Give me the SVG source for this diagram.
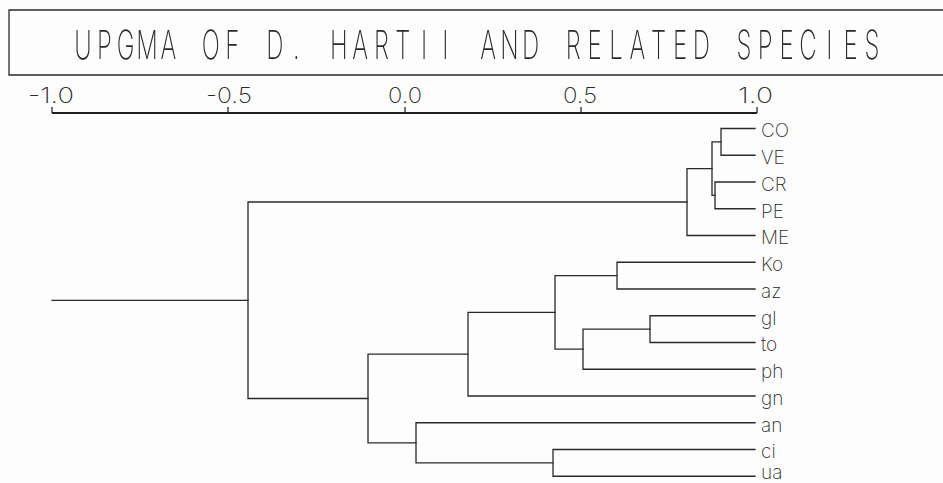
<svg xmlns="http://www.w3.org/2000/svg" width="943" height="483" viewBox="0 0 943 483">
<defs>
<filter id="gray" x="0" y="0" width="1" height="1" color-interpolation-filters="sRGB"><feColorMatrix type="saturate" values="0"/></filter>
</defs>
<style>
.ln{fill:none;stroke:#2a2a2a;stroke-width:1.3;stroke-linecap:square}
.ax{fill:none;stroke:#1e1e1e;stroke-width:2.2}
.tk{fill:none;stroke:#2a2a2a;stroke-width:1.3}
.t{font-family:Inter,"DejaVu Sans",sans-serif;font-weight:200;fill:#2a2a2a}
.title{font-size:40px;font-weight:250}
.axl{font-size:22px}
.lbl{font-size:19px}
</style>
<rect width="943" height="483" fill="#fdfdfd"/>
<g id="title">
<path class="ln" d="M943 10 H9 V75 H943"/>
<g filter="url(#gray)">
<text class="t title" transform="scale(0.6,1)" y="59" text-anchor="middle" x="138.3 173.9 209.4 244.9 280.5 316.0 351.5 387.1 422.6 458.1 493.7 529.2 564.7 600.3 635.8 671.3 706.9 742.4 777.9 813.5 849.0 884.5 920.1 955.6 991.1 1026.7 1062.2 1097.7 1133.3 1168.8 1204.3 1239.9 1275.4 1310.9 1346.5 1382.0 1417.5 1453.1">UPGMA OF D. HARTII AND RELATED SPECIES</text>
</g>
</g>
<g id="axis">
<path class="ax" d="M52 113 H757"/>
<path class="tk" d="M52 107 V113 M228 107 V113 M405 107 V113 M581 107 V113 M757 107 V113"/>
<text class="t axl" x="51" y="103" text-anchor="middle" textLength="46" lengthAdjust="spacingAndGlyphs">-1.0</text>
<text class="t axl" x="229" y="103" text-anchor="middle" textLength="46" lengthAdjust="spacingAndGlyphs">-0.5</text>
<text class="t axl" x="405" y="103" text-anchor="middle" textLength="34" lengthAdjust="spacingAndGlyphs">0.0</text>
<text class="t axl" x="580" y="103" text-anchor="middle" textLength="34" lengthAdjust="spacingAndGlyphs">0.5</text>
<text class="t axl" x="755.5" y="103" text-anchor="middle" textLength="35" lengthAdjust="spacingAndGlyphs">1.0</text>
</g>
<g id="connectors">
<path class="ln" d="M755 128.5 H721 V155.25 H755"/>
<path class="ln" d="M755 182 H715 V208.75 H755"/>
<path class="ln" d="M721 141.9 H712 V195.4 H715"/>
<path class="ln" d="M712 168.6 H687 V235.5 H755"/>
<path class="ln" d="M755 262.25 H617 V289 H755"/>
<path class="ln" d="M755 315.75 H650 V342.5 H755"/>
<path class="ln" d="M650 329.1 H583 V369.25 H755"/>
<path class="ln" d="M617 275.6 H555 V349.2 H583"/>
<path class="ln" d="M555 312.4 H468 V396 H755"/>
<path class="ln" d="M755 449.5 H553 V476.25 H755"/>
<path class="ln" d="M755 422.75 H416 V462.9 H553"/>
<path class="ln" d="M468 354.2 H368 V442.8 H416"/>
<path class="ln" d="M687 202 H248 V398.5 H368"/>
<path class="ln" d="M52 300.3 H248"/>
</g>
<g id="leaf-CO"><text class="t lbl" x="761" y="137">CO</text></g>
<g id="leaf-VE"><text class="t lbl" x="761" y="164">VE</text></g>
<g id="leaf-CR"><text class="t lbl" x="761" y="191">CR</text></g>
<g id="leaf-PE"><text class="t lbl" x="761" y="217.5">PE</text></g>
<g id="leaf-ME"><text class="t lbl" x="761" y="244">ME</text></g>
<g id="leaf-Ko"><text class="t lbl" x="761" y="271">Ko</text></g>
<g id="leaf-az"><text class="t lbl" x="761" y="298">az</text></g>
<g id="leaf-gl"><text class="t lbl" x="761" y="324.5">gl</text></g>
<g id="leaf-to"><text class="t lbl" x="761" y="351">to</text></g>
<g id="leaf-ph"><text class="t lbl" x="761" y="378">ph</text></g>
<g id="leaf-gn"><text class="t lbl" x="761" y="404.5">gn</text></g>
<g id="leaf-an"><text class="t lbl" x="761" y="431.5">an</text></g>
<g id="leaf-ci"><text class="t lbl" x="761" y="458">ci</text></g>
<g id="leaf-ua"><text class="t lbl" x="761" y="479">ua</text></g>
</svg>
